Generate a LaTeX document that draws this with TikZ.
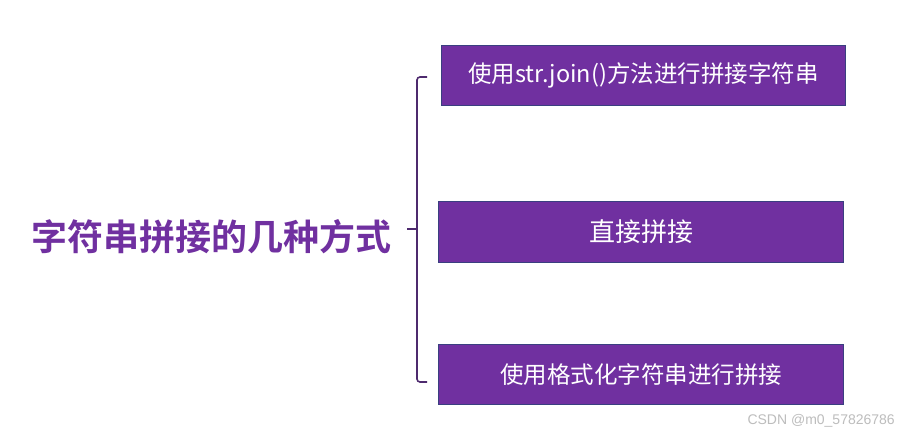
\documentclass[tikz,border=0pt]{standalone}
\usepackage{fontspec}
\newfontfamily\cjk{Noto Sans CJK SC}
\newfontfamily\cjkbold{Noto Sans CJK SC Bold}
\setmainfont{Liberation Sans}
\definecolor{boxpurple}{HTML}{7030A0}
\definecolor{boxedge}{HTML}{3A3F80}
\definecolor{titlepurple}{HTML}{7030A0}
\definecolor{bracecol}{HTML}{4E2A6E}
\definecolor{wmgray}{HTML}{BDBDBD}
\tikzset{
  optbox/.style={draw=boxedge, line width=1pt, fill=boxpurple, text=white,
    minimum height=60pt, inner sep=0pt, anchor=north west, font=\cjk\fontsize{23.5}{26}\selectfont},
  bracepath/.style={draw=bracecol, line width=1.6pt, rounded corners=3pt},
}
\begin{document}
\begin{tikzpicture}[x=1pt,y=-1pt]
\useasboundingbox[fill=white] (0,0) rectangle (899,441);
\node[optbox, minimum width=404pt] (b1) at (441,45) {使用str.join()方法进行拼接字符串};
\node[optbox, minimum width=405pt, minimum height=61pt, font=\cjk\fontsize{26}{30}\selectfont] (b2) at (438,201) {直接拼接};
\node[optbox, minimum width=405pt] (b3) at (438,344) {使用格式化字符串进行拼接};
\node[text=titlepurple, font=\cjkbold\fontsize{36}{40}\selectfont, inner sep=0pt] (title) at (211,237) {字符串拼接的几种方式};
\coordinate (ttop) at (427,77);
\coordinate (tbot) at (427,382);
\coordinate (tmid) at (407,229);
\draw[bracepath] (ttop) -- (417,77) -- (417,382) -- (tbot);
\draw[draw=bracecol, line width=1.6pt] (tmid) -- (417,229);
\node[text=wmgray, font=\fontsize{14}{16}\selectfont, anchor=east, inner sep=0pt] (wm) at (895,421) {CSDN @m0\_57826786};
\end{tikzpicture}
\end{document}
